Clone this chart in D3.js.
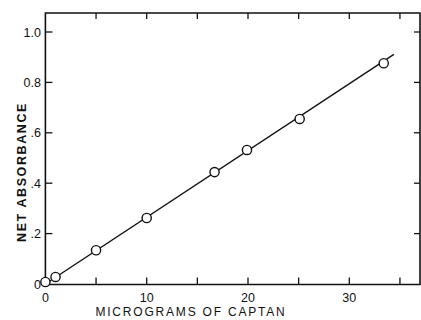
<!DOCTYPE html>
<head>
    <title>captan calibration</title>
    <meta charset="utf-8">
    <style>
    body { margin: 0; background: #fff; }
    svg { display: block; }
    text { fill: #111; font-family: "Liberation Sans", Arial, sans-serif; }
    </style>
    <script src="https://d3js.org/d3.v7.min.js"></script>
</head>
<body>
<script>
// data
const micrograms = [0, 1, 5, 10, 16.7, 19.9, 25.1, 33.4];
const absorbance = [0.008, 0.028, 0.134, 0.262, 0.444, 0.532, 0.655, 0.876];
const fitX = [0, 34.4];
const fitY = [0, 0.911];
const xTicks = [0, 5, 10, 15, 20, 25, 30, 35];
const xLabels = ['0', '', '10', '', '20', '', '30', ''];
const yTicks = [0, 0.2, 0.4, 0.6, 0.8, 1.0];
const yLabels = ['0', '.2', '.4', '.6', '0.8', '1.0'];

const width = 421, height = 320;
const frameL = 45.4, frameR = 420, frameT = 13, frameB = 284.5;

const x = d3.scaleLinear().domain([0, 10]).range([frameL, frameL + 101.3]);
const y = d3.scaleLinear().domain([0, 1]).range([284, 32]);

const svg = d3.select('body').append('svg')
    .attr('width', width)
    .attr('height', height);

// frame
svg.append('path')
    .attr('d', `M${frameL},${frameT}H${frameR}V${frameB}H${frameL}Z`)
    .attr('fill', 'none')
    .attr('stroke', '#111')
    .attr('stroke-width', 1.6);

// ticks, all pointing inside
const tk = svg.append('g').attr('stroke', '#111').attr('stroke-width', 1.3);
xTicks.slice(1).forEach(v => {
    tk.append('line').attr('x1', x(v)).attr('x2', x(v)).attr('y1', frameB).attr('y2', frameB - 7);
    tk.append('line').attr('x1', x(v)).attr('x2', x(v)).attr('y1', frameT).attr('y2', frameT + 6);
});
yTicks.slice(1).forEach(v => {
    tk.append('line').attr('x1', frameL).attr('x2', frameL + 7).attr('y1', y(v)).attr('y2', y(v));
    tk.append('line').attr('x1', frameR).attr('x2', frameR - 6).attr('y1', y(v)).attr('y2', y(v));
});

// tick labels
svg.append('g').selectAll('text')
    .data(xTicks.map((v, i) => ({ v, t: xLabels[i] })).filter(d => d.t))
    .join('text')
    .attr('x', d => x(d.v))
    .attr('y', 302)
    .attr('text-anchor', 'middle')
    .attr('font-size', 12.5)
    .text(d => d.t);

svg.append('g').selectAll('text')
    .data(yTicks.map((v, i) => ({ v, t: yLabels[i] })))
    .join('text')
    .attr('x', 41)
    .attr('y', d => y(d.v) + 4.5)
    .attr('text-anchor', 'end')
    .attr('font-size', 12.5)
    .text(d => d.t);

// axis titles
svg.append('text')
    .attr('x', 191)
    .attr('y', 316)
    .attr('text-anchor', 'middle')
    .attr('font-size', 12)
    .attr('letter-spacing', 1.8)
    .text('MICROGRAMS OF CAPTAN');

svg.append('text')
    .attr('transform', 'translate(26,172) rotate(-90)')
    .attr('text-anchor', 'middle')
    .attr('font-size', 12.5)
    .attr('font-weight', 'bold')
    .attr('letter-spacing', 1.6)
    .text('NET ABSORBANCE');

// fitted line
svg.append('path')
    .datum(fitX.map((v, i) => [v, fitY[i]]))
    .attr('d', d3.line().x(d => x(d[0])).y(d => y(d[1])))
    .attr('fill', 'none')
    .attr('stroke', '#111')
    .attr('stroke-width', 1.4);

// points
svg.append('g').selectAll('circle')
    .data(micrograms.map((v, i) => [v, absorbance[i]]))
    .join('circle')
    .attr('cx', d => x(d[0]))
    .attr('cy', d => y(d[1]))
    .attr('r', 4.6)
    .attr('fill', '#fff')
    .attr('stroke', '#111')
    .attr('stroke-width', 1.4);
</script>
</body>
</html>
